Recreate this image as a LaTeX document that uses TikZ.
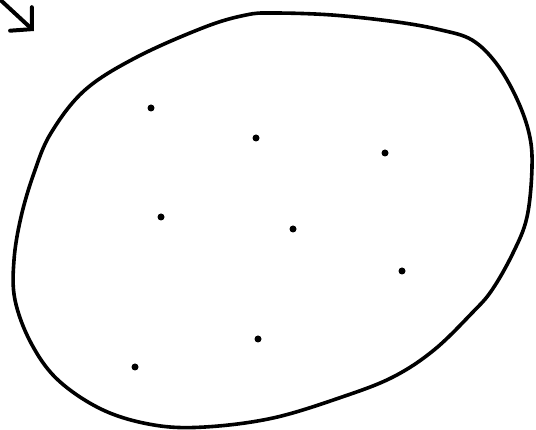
\documentclass[tikz,border=0pt]{standalone}
\usetikzlibrary{arrows.meta}

\begin{document}
\begin{tikzpicture}[
  x=1pt,y=-1pt,
  outline/.style={draw=black,line width=3.6pt,line join=round},
  pointer/.style={-{Straight Barb[length=15pt,width=32pt,line cap=round]},
    draw=black,line width=4pt,line cap=round},
  dot/.style={circle,fill=black,inner sep=0pt,minimum size=7pt}
]
\useasboundingbox (0,0) rectangle (536,430);

% the set: a hand drawn closed curve
\draw[outline] plot[smooth cycle,tension=0.6] coordinates {
  (273,13) (332,15) (397,22) (441,30) (472,40) (496,63) (516,97)
  (529,133) (532,167) (527,217) (513,253) (492,290) (472,313)
  (434,350) (393,377) (342,397) (273,418) (205,427) (154,425)
  (103,410) (58,380) (31,343) (15,300) (14,260) (21,217) (34,173)
  (51,133) (85,90) (137,57) (205,27) (246,15)};

% its elements
\foreach \px/\py [count=\i] in {151/108,256/138,385/153,161/217,
    293/229,402/271,258/339,135/367}
  \node[dot] (elem\i) at (\px,\py) {};

% arrow pointing at the set
\coordinate (arrowfrom) at (-6,-6);
\coordinate (arrowto) at (34,31);
\draw[pointer] (arrowfrom) -- (arrowto);

\end{tikzpicture}
\end{document}
